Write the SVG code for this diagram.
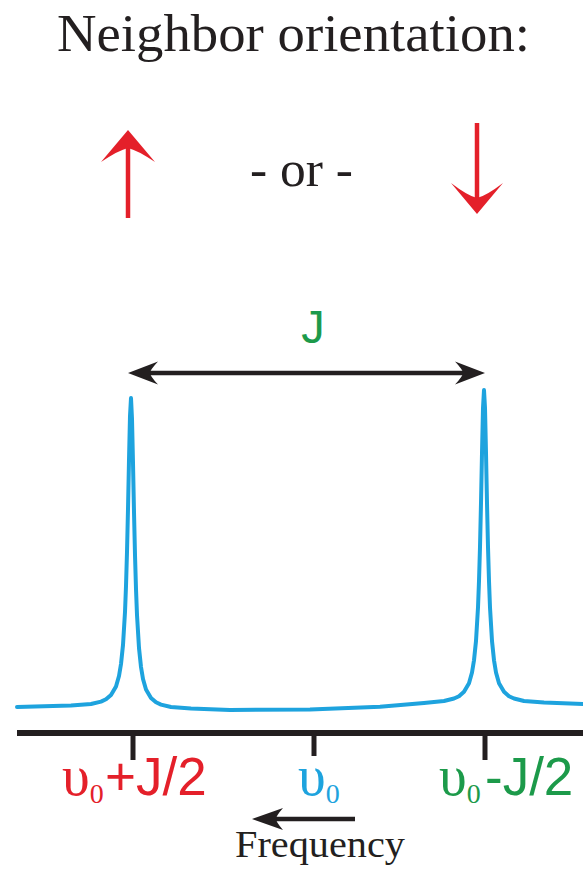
<svg xmlns="http://www.w3.org/2000/svg" width="583" height="871" viewBox="0 0 583 871">
<style>
.serif{font-family:"Liberation Serif","DejaVu Serif",serif;fill:#231f20}
.sans{font-family:"Liberation Sans",Arial,sans-serif}
.red{fill:#e4202a}
.blue{fill:#1ea3de}
.green{fill:#1c9a4a}
.dark{fill:#231f20}
.shaft{stroke:#231f20;stroke-width:4.5;fill:none}
.spin{stroke:#e4202a;stroke-width:4.5;fill:none}
.peak{stroke:#1ea3de;stroke-width:4;fill:none;stroke-linejoin:round;stroke-linecap:round}
.axis{stroke:#231f20;fill:none}
</style>
<rect width="583" height="871" fill="#ffffff"/>
<g id="title">
<text class="serif" x="57" y="51" font-size="52" textLength="473" lengthAdjust="spacingAndGlyphs">Neighbor orientation:</text>
</g>
<g id="spin-up">
<line class="spin" x1="128" y1="218" x2="128" y2="145"/>
<path class="red" d="M128,130 L155,162 Q137,150 128,148 Q119,150 101,162 Z"/>
</g>
<g id="or-label">
<text class="serif" x="250" y="186" font-size="50" textLength="103" lengthAdjust="spacingAndGlyphs">- or -</text>
</g>
<g id="spin-down">
<line class="spin" x1="477" y1="123" x2="477" y2="198"/>
<path class="red" d="M477,214 L503,183 Q486,196 477,198 Q468,196 451,183 Z"/>
</g>
<g id="J-label">
<text class="sans green" x="313" y="343" font-size="47" text-anchor="middle">J</text>
</g>
<g id="spectrum">
<polyline class="peak" points="17,707 71,705.6 91,704 101,701.6 106,699.3 111,695 116,686.5 119,676 121,664 123,645 125,612 126,586 127,552 128,509 129,460 130,416 131,398 132,419 133,463 134,512 135,555 136,589 137,615 139,648 141,667 143,679 146,689.5 151,698 156,702.3 161,704.6 171,707 191,708.6 230,710 310,709.5 380,706.8 424,703 444,701 454,698.5 459,696.2 464,691.8 469,683.2 472,672.5 474,660.3 476,641 478,607.5 479,581 480,547 481,503 482,453 483,408 484,390 485,408 486,453 487,503 488,547 489,581 490,607.5 492,641 494,660.3 496,672.5 499,683.2 504,691.8 509,696.2 514,698.5 524,701 544,702.6 583,704"/>
</g>
<g id="axis">
<line class="axis" x1="17" y1="733" x2="583" y2="733" stroke-width="6"/>
<line class="axis" x1="133" y1="733" x2="133" y2="760" stroke-width="5"/>
<line class="axis" x1="314" y1="733" x2="314" y2="756" stroke-width="5"/>
<line class="axis" x1="485" y1="733" x2="485" y2="760" stroke-width="5"/>
</g>
<g id="label-plus">
<text y="795"><tspan class="serif red" x="62" font-size="56">υ</tspan><tspan class="serif red" font-size="28" dy="8">0</tspan><tspan class="sans red" x="105" font-size="53" dy="-8">+J/2</tspan></text>
</g>
<g id="label-center">
<text y="795"><tspan class="serif blue" x="298" font-size="56">υ</tspan><tspan class="serif blue" font-size="28" dy="8">0</tspan></text>
</g>
<g id="label-minus">
<text y="795"><tspan class="serif green" x="439" font-size="56">υ</tspan><tspan class="serif green" font-size="28" dy="8">0</tspan><tspan class="sans green" x="485" font-size="53" dy="-8">-J/2</tspan></text>
</g>
<g id="frequency-label">
<text class="serif" x="235" y="857" font-size="38" textLength="170" lengthAdjust="spacingAndGlyphs">Frequency</text>
</g>
<g id="connectors">
<line class="shaft" x1="148" y1="373" x2="465" y2="373"/>
<path class="dark" d="M128,373 L158,361.5 Q150,370 150,373 Q150,376 158,384.5 Z"/>
<path class="dark" d="M485,373 L455,361.5 Q463,370 463,373 Q463,376 455,384.5 Z"/>
<line class="shaft" x1="270" y1="819" x2="355" y2="819" stroke-width="5"/>
<path class="dark" d="M252,819 L283,808 Q276,816 276,819 Q276,822 283,830 Z"/>
</g>
</svg>
